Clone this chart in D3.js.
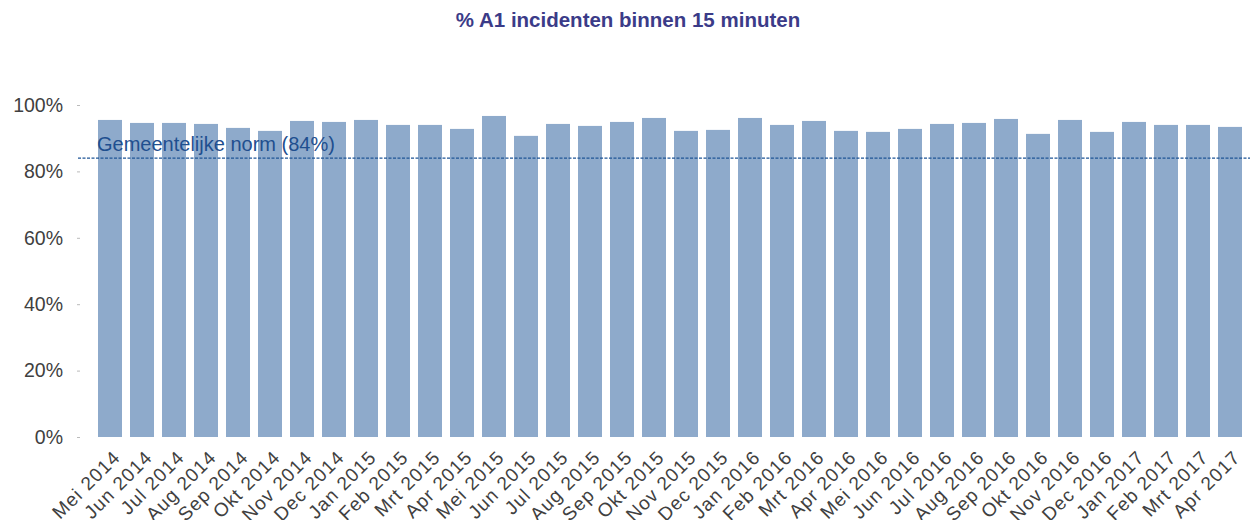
<!DOCTYPE html>
<html><head><meta charset="utf-8">
<script src="https://cdn.jsdelivr.net/npm/d3@7"></script>
<style>body{margin:0;background:#fff}svg{display:block;font-family:"Liberation Sans",Arial,sans-serif}</style>
</head><body><svg id="c" width="1252" height="520"></svg>
<script>
const categories = ["Mei 2014","Jun 2014","Jul 2014","Aug 2014","Sep 2014","Okt 2014","Nov 2014","Dec 2014","Jan 2015","Feb 2015","Mrt 2015","Apr 2015","Mei 2015","Jun 2015","Jul 2015","Aug 2015","Sep 2015","Okt 2015","Nov 2015","Dec 2015","Jan 2016","Feb 2016","Mrt 2016","Apr 2016","Mei 2016","Jun 2016","Jul 2016","Aug 2016","Sep 2016","Okt 2016","Nov 2016","Dec 2016","Jan 2017","Feb 2017","Mrt 2017","Apr 2017"];
const values = [95.5,94.6,94.6,94.3,93.1,92.2,95.2,94.9,95.5,94.0,94.0,92.8,96.7,90.7,94.3,93.7,94.9,96.1,92.2,92.5,96.1,94.0,95.2,92.2,91.9,92.8,94.3,94.6,95.8,91.3,95.5,91.9,94.9,94.0,94.0,93.4];
const yTicks = [0,20,40,60,80,100];
const normValue = 84;
const normLabel = "Gemeentelijke norm (84%)";
const title = "% A1 incidenten binnen 15 minuten";

const svg = d3.select("#c");
const x = d3.scaleBand().domain(categories).range([94,1246]).paddingInner(0.25).paddingOuter(0.125);
const y = d3.scaleLinear().domain([0,100]).range([437,105]);

svg.append("text").attr("x",628).attr("y",27).attr("text-anchor","middle")
  .attr("font-size","20.5px").attr("font-weight","bold").attr("fill","#3b3b88").text(title);

// y axis
const yAxis = svg.append("g").attr("transform","translate(80,0)")
  .call(d3.axisLeft(y).tickValues(yTicks).tickFormat(d=>d+"%").tickSize(3).tickPadding(14));
yAxis.select(".domain").remove();
yAxis.selectAll(".tick line").attr("stroke","#bbbbbb");
yAxis.selectAll(".tick text").attr("font-size","19.5px").attr("fill","#404040").attr("font-family","Liberation Sans, Arial, sans-serif");

// bars
svg.append("g").selectAll("rect").data(values).join("rect")
  .attr("x",(d,i)=>x(categories[i])).attr("width",x.bandwidth())
  .attr("y",d=>y(d)).attr("height",d=>y(0)-y(d)).attr("fill","#8eaacb");

// x axis labels
const xAxis = svg.append("g").attr("transform","translate(0,437)")
  .call(d3.axisBottom(x).tickSize(0).tickPadding(0));
xAxis.select(".domain").remove();
xAxis.selectAll(".tick text")
  .attr("font-size","19px").attr("letter-spacing","1.1px").attr("fill","#404040").attr("font-family","Liberation Sans, Arial, sans-serif")
  .attr("text-anchor","end").attr("dy",null).attr("y",null)
  .attr("transform","translate(2,12) rotate(-45)")
  .attr("dominant-baseline","hanging");

// norm line
svg.append("line").attr("x1",78).attr("x2",1250).attr("y1",y(normValue)).attr("y2",y(normValue))
  .attr("stroke","#1f5596").attr("stroke-width",1.3).attr("stroke-dasharray","3,1.5");
svg.append("text").attr("x",97).attr("y",y(normValue)-7).attr("font-size","20px").attr("fill","#1f4f8f").text(normLabel);
</script></body></html>
